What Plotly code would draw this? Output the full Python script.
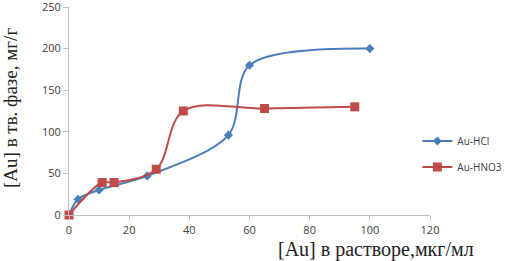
import plotly.graph_objects as go

hcl_x = [0, 3, 10, 26, 53, 60, 100]
hcl_y = [0, 19, 30, 47, 96, 180, 200]
hno3_x = [0, 11, 15, 29, 38, 65, 95]
hno3_y = [0, 39, 39, 55, 125, 128, 130]

x_ticks = [0, 20, 40, 60, 80, 100, 120]
y_ticks = [0, 50, 100, 150, 200, 250]

x_title = "[Au] в растворе,мкг/мл"
y_title = "[Au] в тв. фазе, мг/г"

fig = go.Figure()
fig.add_trace(go.Scatter(
    x=hcl_x, y=hcl_y, name="Au-HCl", mode="lines+markers", cliponaxis=False,
    legendgroup="a",
    line=dict(color="#4a7ebb", width=2, shape="spline", smoothing=0.9),
    marker=dict(symbol="diamond", size=7, color="#4a7ebb"),
))
fig.add_trace(go.Scatter(
    x=hno3_x, y=hno3_y, name="Au-HNO3", mode="lines+markers", cliponaxis=False,
    legendgroup="b",
    line=dict(color="#be4b48", width=2, shape="spline", smoothing=1.0),
    marker=dict(symbol="square", size=9, color="#be4b48"),
))

serif = "Liberation Serif, Times New Roman, serif"
fig.update_layout(
    width=513, height=261,
    margin=dict(l=69, r=83, t=7, b=46, autoexpand=False),
    paper_bgcolor="white", plot_bgcolor="white",
    font=dict(family="Open Sans, sans-serif", size=11, color="#404040"),
    showlegend=True,
    legend=dict(x=0.965, y=(215 - 154) / 208, xanchor="left", yanchor="middle",
                font=dict(size=10, color="#404040"), traceorder="grouped",
                tracegroupgap=7, itemwidth=30, bgcolor="rgba(0,0,0,0)"),
    xaxis=dict(range=[0, 120], tickvals=x_ticks, showgrid=False, zeroline=False,
               showline=True, linecolor="#bfbfbf", linewidth=1, automargin=False,
               ticks="outside", ticklen=5, tickcolor="#bfbfbf", ticklabeloverflow="allow"),
    yaxis=dict(range=[0, 250], tickvals=y_ticks, showgrid=False, zeroline=False,
               showline=True, linecolor="#bfbfbf", linewidth=1, automargin=False,
               ticks="outside", ticklen=5, tickcolor="#bfbfbf", ticklabeloverflow="allow"),
    annotations=[
        dict(text=x_title, xref="paper", yref="paper", x=(376 - 69) / 361, y=-(249 - 215) / 208,
             xanchor="center", yanchor="middle", showarrow=False,
             font=dict(family=serif, size=20, color="#222")),
        dict(text=y_title, xref="paper", yref="paper", x=-(69 - 10) / 361, y=(215 - 108) / 208,
             xanchor="center", yanchor="middle", showarrow=False, textangle=-90,
             font=dict(family=serif, size=19, color="#222")),
    ],
)

fig.write_html("out.html", config={"displayModeBar": False},
               post_script="document.body.style.margin='0';document.body.style.overflow='hidden';")
